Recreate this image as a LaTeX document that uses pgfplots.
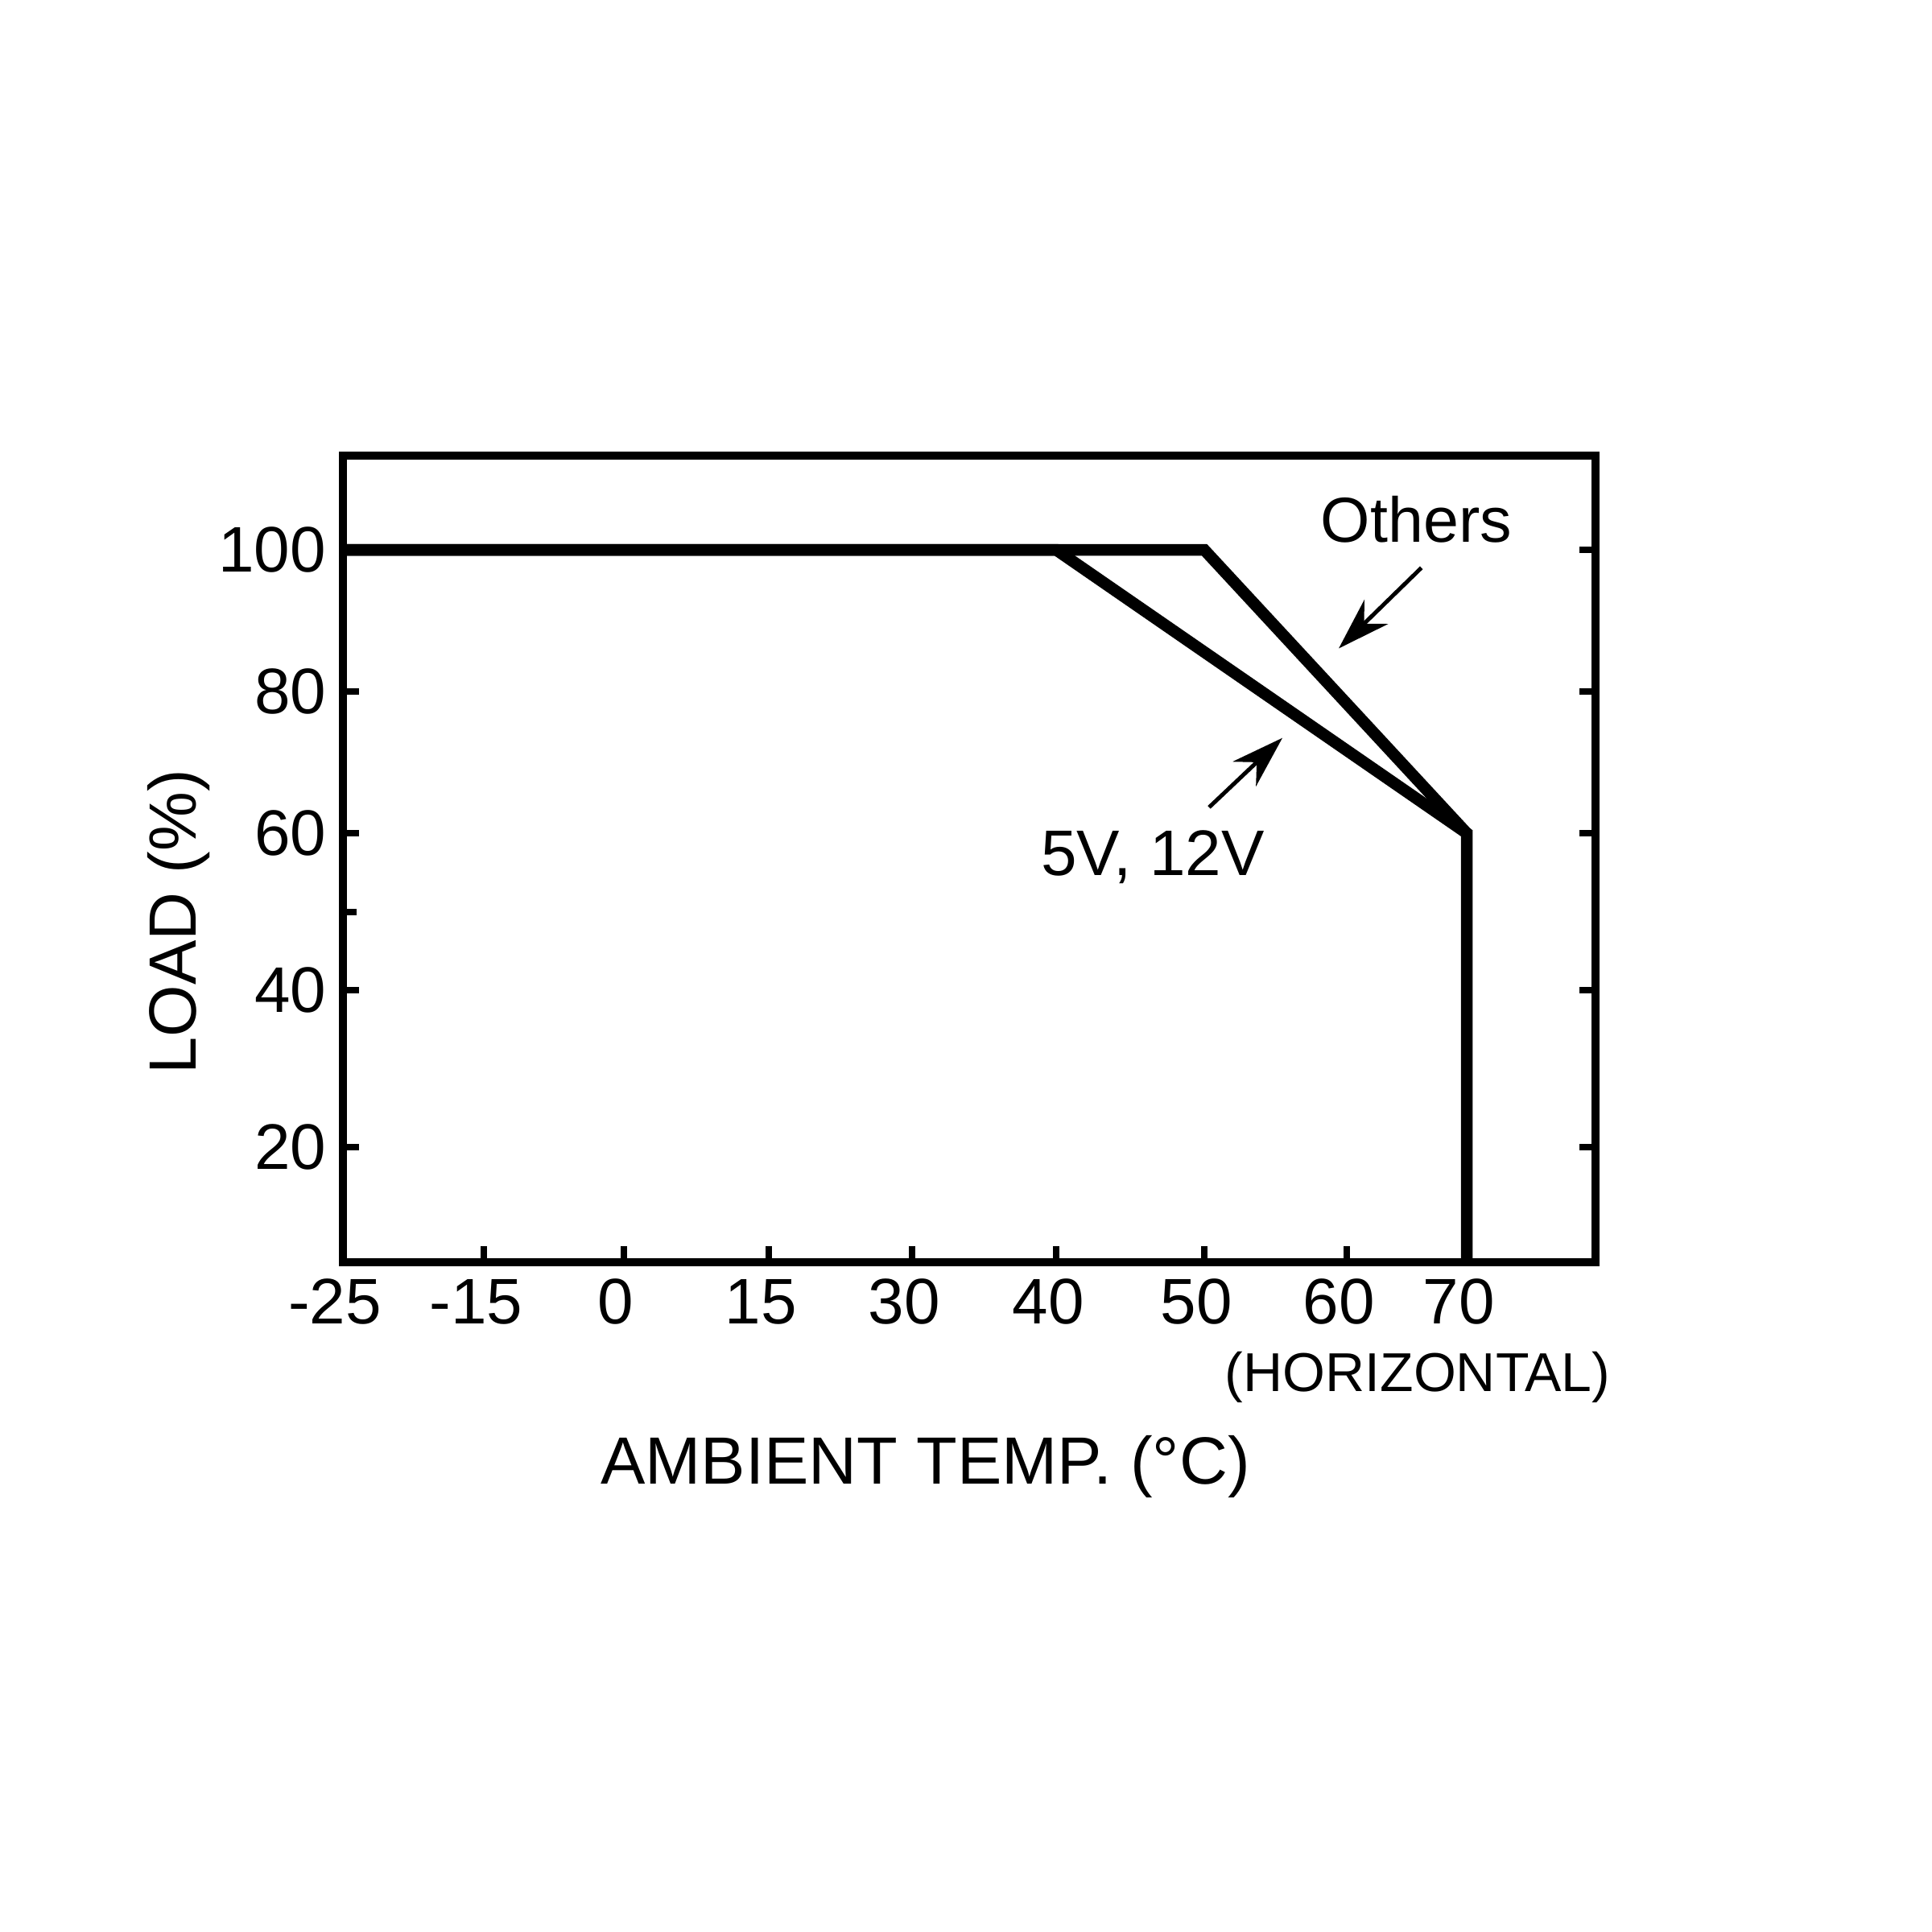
\documentclass[border=0pt]{standalone}
\usepackage{pgfplots}
\pgfplotsset{compat=1.18}
\usepackage{fontspec}
\setmainfont{Liberation Sans}
\usetikzlibrary{arrows.meta}

\begin{document}
\begin{tikzpicture}
\path[use as bounding box] (-42.6pt,-83.2pt) rectangle (197.4pt,156.8pt);
\begin{axis}[
  at={(0,0)}, anchor=south west,
  scale only axis, width=155.6pt, height=100.2pt,
  x coord trafo/.code={\pgfmathparse{17.55*(#1+25)-5.98*max(#1+15,0)+0.43*max(#1,0)-0.13*max(#1-15,0)+6.03*max(#1-30,0)+0.5*max(#1-40,0)-0.7*max(#1-50,0)-2.8*max(#1-60,0)}},
  y coord trafo/.code={\pgfmathparse{7.15*#1+2.6*max(#1-20,0)-0.95*max(#1-60,0)}},
  xmin=-25, xmax=80.74, ymin=0, ymax=113.3,
  xtick={-25,-15,0,15,30,40,50,60,70},
  xticklabels={-25,-15,0,15,30,40,50,60,70},
  ytick={20,40,60,80,100},
  yticklabels={20,40,60,80,100},
  xtick pos=left, ytick pos=both, yticklabel pos=left,
  tick align=inside,
  major tick length=2pt,
  tick style={line width=0.8pt, black},
  axis line style={line width=1.05pt},
  xticklabel style={font=\fontsize{8}{9.6}\selectfont, inner sep=0pt, yshift=-1.9pt, xshift=-1pt},
  yticklabel style={font=\fontsize{8}{9.6}\selectfont, inner sep=0pt, xshift=-1.9pt},
  clip mode=individual,
]
\addplot[black, line width=1.45pt] coordinates {(-25,100) (40,100) (70,60) (70,0)};
\addplot[black, line width=1.45pt] coordinates {(-25,100) (50,100) (70,60)};

\draw[line width=0.8pt] (rel axis cs:0,0.4346) -- ++(1.7pt,0pt);

\node[anchor=base, font=\fontsize{7.9}{9}\selectfont] at (rel axis cs:0.857,0.893) {Others};
\draw[line width=0.5pt, -{Stealth[length=6.5pt,width=4.2pt]}] (rel axis cs:0.861,0.861) -- (rel axis cs:0.795,0.761);
\node[anchor=base, font=\fontsize{8}{9}\selectfont] at (rel axis cs:0.6465,0.480) {5V, 12V};
\draw[line width=0.5pt, -{Stealth[length=6.5pt,width=4.2pt]}] (rel axis cs:0.6915,0.564) -- (rel axis cs:0.750,0.650);

\node[anchor=base, font=\fontsize{6.8}{8}\selectfont] at (rel axis cs:0.858,-0.1597) {(HORIZONTAL)};
\node[anchor=base, font=\fontsize{8.3}{10}\selectfont] at (rel axis cs:0.465,-0.2745) {AMBIENT TEMP. (°C)};
\node[anchor=base, rotate=90, font=\fontsize{8.3}{10}\selectfont] at (rel axis cs:-0.1176,0.422) {LOAD (\%)};
\end{axis}
\end{tikzpicture}
\end{document}
